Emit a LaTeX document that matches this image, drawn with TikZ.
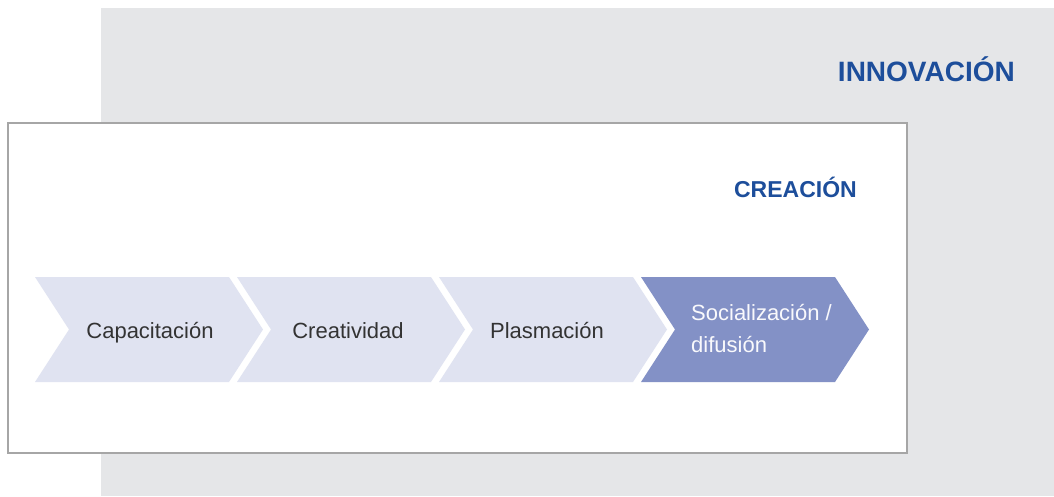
\documentclass[tikz,border=0pt]{standalone}
\usepackage{fontspec}
\setmainfont{Liberation Sans}
\usetikzlibrary{positioning}
\definecolor{fondogris}{HTML}{E5E6E8}
\definecolor{azultitulo}{HTML}{1D4E9B}
\definecolor{chevclaro}{HTML}{E0E3F1}
\definecolor{chevoscuro}{HTML}{8391C6}
\definecolor{textogris}{HTML}{333333}
\tikzset{
  titulo/.style={text=azultitulo,font=\bfseries,inner sep=0pt,anchor=base east},
  paso/.style={text=textogris,font=\fontsize{22}{26}\selectfont,inner sep=0pt,anchor=base},
}

\begin{document}
\begin{tikzpicture}[x=1pt,y=-1pt]
    \useasboundingbox (0,0) rectangle (1054,496);
    % marco exterior: innovacion
    \fill [fondogris] (101,8) rectangle (1054,496);
    \node [titulo,font=\bfseries\fontsize{28}{32}\selectfont] (innovacion) at (1015,81) {INNOVACIÓN};
    % marco interior: creacion
    \filldraw [fill=white,draw=black!35,line width=1.5pt] (8,123) rectangle (907,453);
    \node [titulo,font=\bfseries\fontsize{23}{27}\selectfont] (creacion) at (857,197) {CREACIÓN};
    % pasos
    \foreach \x/\dx/\nombre/\texto in {35/115/capacitacion/Capacitación,237/111/creatividad/Creatividad,439/108/plasmacion/Plasmación} {
      \fill [chevclaro] (\x,277) -- ++(194,0) -- ++(34,52.5) -- ++(-34,52.5) -- ++(-194,0) -- ++(34,-52.5) -- cycle;
      \node [paso] (\nombre) at (\x+\dx,338) {\texto};
    }
    \fill [chevoscuro] (641,277) -- ++(194,0) -- ++(34,52.5) -- ++(-34,52.5) -- ++(-194,0) -- ++(34,-52.5) -- cycle;
    \node [paso,text=white!95!chevoscuro,anchor=north west,align=left,font=\fontsize{22}{32}\selectfont] (socializacion) at (691,304) {Socialización /\\difusión};
\end{tikzpicture}
\end{document}
